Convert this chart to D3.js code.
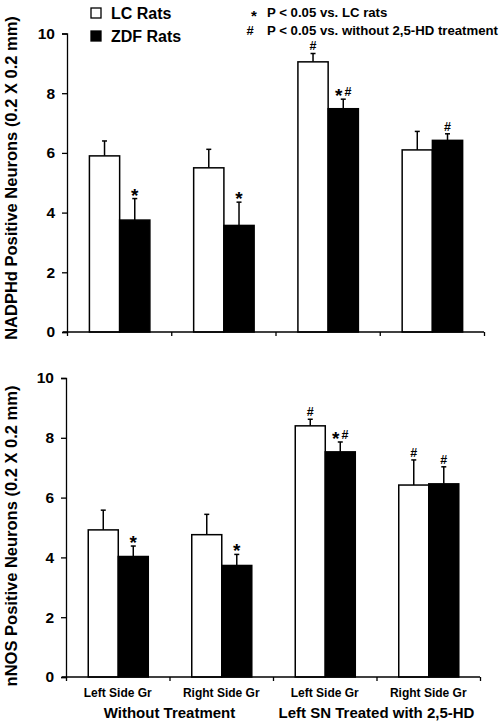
<!DOCTYPE html>
<html><head><meta charset="utf-8">
<script src="https://cdn.jsdelivr.net/npm/d3@7/dist/d3.min.js"></script>
<style>
body{margin:0;background:#fff;}
svg{display:block;font-family:"Liberation Sans",Arial,sans-serif;font-weight:bold;}
</style></head>
<body><svg id="c" width="502" height="723"></svg>
<script>
const categories = ["Left Side Gr","Right Side Gr","Left Side Gr","Right Side Gr"];
const groups = ["Without Treatment","Left SN Treated with 2,5-HD"];
const series = ["LC Rats","ZDF Rats"];
const yTicks = [0,2,4,6,8,10];

const nadphLC = [5.9, 5.5, 9.05, 6.1];
const nadphLCErr = [0.5, 0.62, 0.28, 0.62];
const nadphZDF = [3.75, 3.57, 7.48, 6.42];
const nadphZDFErr = [0.72, 0.78, 0.32, 0.22];
const nadphLCMark = ["", "", "#", ""];
const nadphZDFMark = ["*", "*", "*#", "#"];

const nnosLC = [4.92, 4.76, 8.4, 6.42];
const nnosLCErr = [0.66, 0.68, 0.22, 0.84];
const nnosZDF = [4.03, 3.73, 7.53, 6.46];
const nnosZDFErr = [0.35, 0.37, 0.33, 0.57];
const nnosLCMark = ["", "", "#", "#"];
const nnosZDFMark = ["*", "*", "*#", "#"];

const legendNotes = [["*","P < 0.05 vs. LC rats"],["#","P < 0.05 vs. without 2,5-HD treatment"]];

const svg = d3.select("#c");
const fills = ["#fff","#000"];

function panel(cfg){
  const g = svg.append("g");
  const y = d3.scaleLinear().domain([0,10]).range([cfg.y0, cfg.y1]);
  const xi = d3.scaleBand().domain(d3.range(categories.length)).range([cfg.x0, cfg.x1]);
  const bw = xi.bandwidth();
  const x1 = d3.scaleBand().domain(series).range([bw*0.215, bw*0.795]);
  const xl = d3.scaleLinear().domain([0, categories.length]).range([cfg.x0, cfg.x1]);

  const rows = [];
  categories.forEach((c,i)=>{
    rows.push({i, s:series[0], v:cfg.lc[i], e:cfg.lcErr[i], m:cfg.lcMark[i]});
    rows.push({i, s:series[1], v:cfg.zdf[i], e:cfg.zdfErr[i], m:cfg.zdfMark[i]});
  });
  const cx = d=> xi(d.i)+x1(d.s)+x1.bandwidth()/2;

  g.selectAll("line.err").data(rows).join("line")
    .attr("x1",cx).attr("x2",cx)
    .attr("y1",d=>y(d.v)).attr("y2",d=>y(d.v+d.e))
    .attr("stroke","#000").attr("stroke-width",1.5);
  g.selectAll("line.cap").data(rows).join("line")
    .attr("x1",d=>cx(d)-2.5).attr("x2",d=>cx(d)+2.5)
    .attr("y1",d=>y(d.v+d.e)).attr("y2",d=>y(d.v+d.e))
    .attr("stroke","#000").attr("stroke-width",1.5);

  g.selectAll("rect.bar").data(rows).join("rect")
    .attr("x",d=>xi(d.i)+x1(d.s)).attr("width",x1.bandwidth())
    .attr("y",d=>y(d.v)).attr("height",d=>y(0)-y(d.v))
    .attr("fill",d=>fills[series.indexOf(d.s)])
    .attr("stroke","#000").attr("stroke-width",1.5);

  const mk = g.selectAll("text.mk").data(rows.filter(d=>d.m)).join("text")
    .attr("x",cx).attr("y",d=>y(d.v+d.e)-3)
    .attr("text-anchor","middle").attr("fill","#000");
  mk.each(function(d){
    const t = d3.select(this);
    d.m.split("").forEach((ch,k)=>{
      const sp = t.append("tspan").text(ch);
      if(ch==="*"){ sp.attr("font-size",19).attr("dy", 6); }
      else { sp.attr("font-size",12.5).attr("dx", k>0?2:0).attr("dy", k>0?-6:0); }
    });
  });

  const ya = g.append("g").attr("transform",`translate(${cfg.x0},0)`)
    .call(d3.axisLeft(y).tickValues(yTicks).tickSizeOuter(0).tickSize(5).tickPadding(7));
  ya.selectAll("text").attr("font-size",15.5).attr("font-family","Liberation Sans, Arial").attr("font-weight","bold").attr("fill","#000");
  ya.selectAll("path,line").attr("stroke","#000").attr("stroke-width",1.3);

  const xa = g.append("g").attr("transform",`translate(0,${cfg.y0})`)
    .call(d3.axisBottom(xl).tickValues(d3.range(categories.length+1)).tickFormat("").tickSize(4).tickSizeOuter(0));
  xa.select(".domain").attr("d",`M${cfg.x0-4},0H${cfg.x1}`);
  xa.selectAll("path,line").attr("stroke","#000").attr("stroke-width",1.3);

  g.append("text").attr("transform",`translate(${cfg.titleX},${cfg.titleY}) rotate(-90)`)
    .attr("text-anchor","middle").attr("font-size",16.5).attr("fill","#000").text(cfg.title);

  return {xi, bw};
}

panel({x0:67, x1:484, y0:332, y1:33.5, lc:nadphLC, lcErr:nadphLCErr, zdf:nadphZDF, zdfErr:nadphZDFErr,
  lcMark:nadphLCMark, zdfMark:nadphZDFMark, title:"NADPHd Positive Neurons (0.2 X 0.2 mm)", titleX:17, titleY:178});
const bot = panel({x0:66, x1:480, y0:677, y1:378, lc:nnosLC, lcErr:nnosLCErr, zdf:nnosZDF, zdfErr:nnosZDFErr,
  lcMark:nnosLCMark, zdfMark:nnosZDFMark, title:"nNOS Positive Neurons (0.2 X 0.2 mm)", titleX:17, titleY:536});

svg.selectAll("text.cat").data(categories).join("text")
  .attr("x",(d,i)=>bot.xi(i)+bot.bw/2).attr("y",697)
  .attr("text-anchor","middle").attr("font-size",12).attr("fill","#000").text(d=>d);
svg.selectAll("text.grp").data(groups).join("text")
  .attr("x",(d,i)=>bot.xi(i*2)+bot.bw).attr("y",718)
  .attr("text-anchor","middle").attr("font-size",15).attr("fill","#000").text(d=>d);

const lg = svg.append("g");
series.forEach((s,i)=>{
  lg.append("rect").attr("x",91).attr("y",8+i*23).attr("width",10).attr("height",10)
    .attr("fill",fills[i]).attr("stroke","#000").attr("stroke-width",1.3);
  lg.append("text").attr("x",111).attr("y",18.5+i*23).attr("font-size",16).attr("fill","#000").text(s);
});
legendNotes.forEach((n,i)=>{
  if(n[0]==="*"){
    lg.append("text").attr("x",254).attr("y",21).attr("text-anchor","middle").attr("font-size",15).attr("fill","#000").text(n[0]);
  } else {
    lg.append("text").attr("x",250).attr("y",35).attr("text-anchor","middle").attr("font-size",13).attr("fill","#000").text(n[0]);
  }
  lg.append("text").attr("x",267).attr("y",17+i*18).attr("font-size",13.2).attr("fill","#000").text(n[1]);
});
</script></body></html>
